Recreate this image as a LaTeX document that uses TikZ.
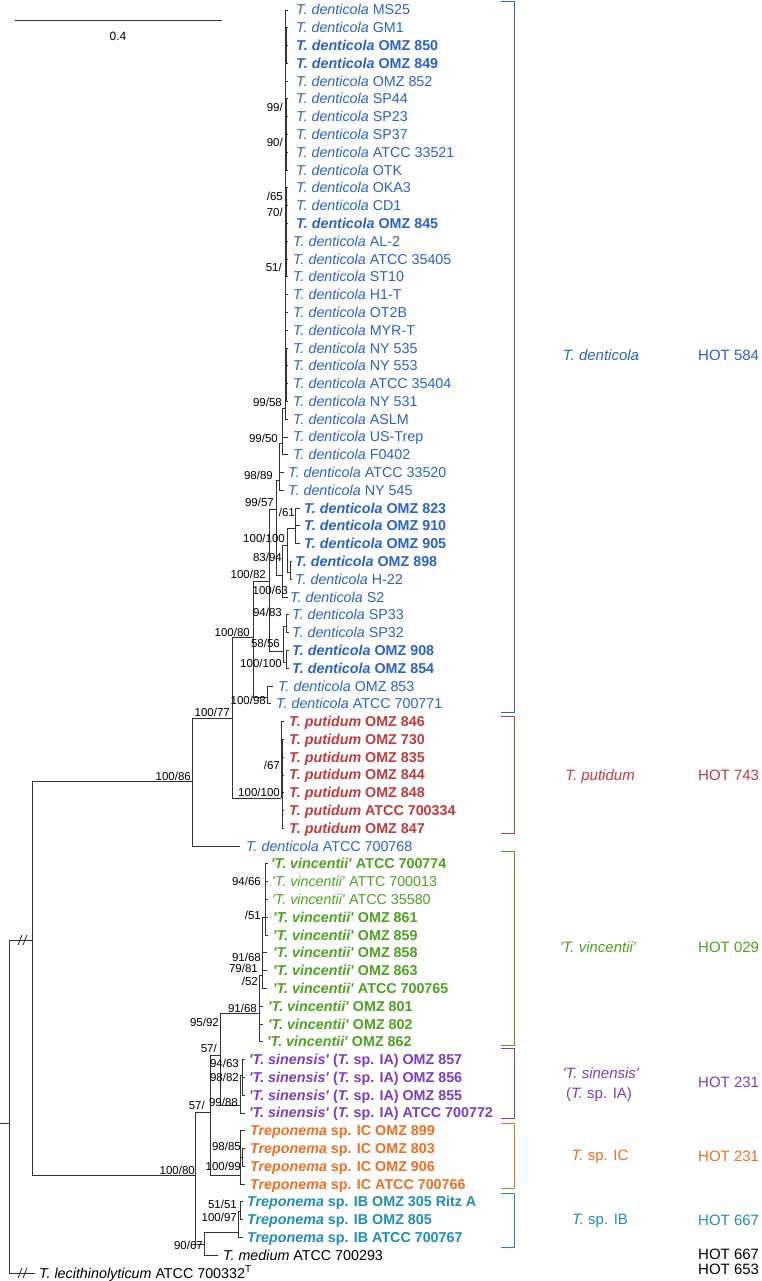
\documentclass[tikz,border=0pt]{standalone}
\usepackage{fontspec}
\setmainfont{Liberation Sans}
\definecolor{tdblue}{HTML}{2A62C6}
\definecolor{tpred}{HTML}{C23A3C}
\definecolor{tvgreen}{HTML}{4CA21F}
\definecolor{tspurple}{HTML}{7B3CC5}
\definecolor{tcorange}{HTML}{F06E22}
\definecolor{tbteal}{HTML}{1F8DB3}
\definecolor{treegray}{HTML}{333333}
\newcommand\sq{\textquotesingle}
\newcommand\tdn[1]{\textit{T. denticola} #1}
\newcommand\tdnb[1]{\textbf{\textit{T. denticola} #1}}
\newcommand\tput[1]{\textbf{\textit{T. putidum} #1}}
\newcommand\tvin[1]{\textit{\sq T. vincentii\sq} #1}
\newcommand\tvinb[1]{\textbf{\textit{\sq T. vincentii\sq} #1}}
\newcommand\tsin[1]{\textbf{\textit{\sq T. sinensis\sq} (\textit{T.} sp. IA) #1}}
\newcommand\trep[2]{\textbf{\textit{Treponema} sp. #1 #2}}
\begin{document}
\begin{tikzpicture}[x=1pt, y=-1pt,
  leaf/.style={anchor=base west, inner sep=0pt, font=\fontsize{14.3}{16}\selectfont},
  boot/.style={anchor=base east, inner sep=0pt, font=\fontsize{11.5}{13}\selectfont},
  branch/.style={draw=treegray, line width=0.9pt},
  cladebar/.style={line width=1pt},
  grp/.style={anchor=base, inner sep=0pt, font=\fontsize{15}{17}\selectfont},
  hot/.style={anchor=base west, inner sep=0pt, font=\fontsize{15}{17}\selectfont}]

\useasboundingbox (0,0) rectangle (762,1281);

% Scale bar
\coordinate (sb1) at (15,20);
\coordinate (sb2) at (222,20);
\draw[branch] (sb1) -- (sb2);
\node[inner sep=0pt, font=\fontsize{12}{14}\selectfont] (sbl) at (118,36) {0.4};

% === Leaves ===
% T. denticola
\foreach \i/\lx/\tx/\txt in {
  1/296/288/\tdn{MS25}, 2/296/288/\tdn{GM1}, 3/296/288/\tdnb{OMZ 850},
  4/296/288/\tdnb{OMZ 849}, 5/296/288/\tdn{OMZ 852}, 6/296/288/\tdn{SP44},
  7/296/288/\tdn{SP23}, 8/296/288/\tdn{SP37}, 9/296/288/\tdn{ATCC 33521},
  10/296/288/\tdn{OTK}, 11/296/288/\tdn{OKA3}, 12/296/288/\tdn{CD1},
  13/296/288/\tdnb{OMZ 845}, 14/293/288/\tdn{AL-2}, 15/293/288/\tdn{ATCC 35405},
  16/293/288/\tdn{ST10}, 17/293/288/\tdn{H1-T}, 18/293/288/\tdn{OT2B},
  19/293/288/\tdn{MYR-T}, 20/293/288/\tdn{NY 535}, 21/293/288/\tdn{NY 553},
  22/293/288/\tdn{ATCC 35404}, 23/293/288/\tdn{NY 531}, 24/293/288/\tdn{ASLM},
  25/293/288/\tdn{US-Trep}, 26/293/288/\tdn{F0402}, 27/288/284/\tdn{ATCC 33520},
  28/288/284/\tdn{NY 545}, 29/304/300/\tdnb{OMZ 823}, 30/304/300/\tdnb{OMZ 910},
  31/304/300/\tdnb{OMZ 905}, 32/295/292/\tdnb{OMZ 898}, 33/295/292/\tdn{H-22},
  34/290/288/\tdn{S2}, 35/292/289/\tdn{SP33}, 36/292/289/\tdn{SP32},
  37/292/289/\tdnb{OMZ 908}, 38/292/289/\tdnb{OMZ 854}, 39/278/273/\tdn{OMZ 853},
  40/276/271/\tdn{ATCC 700771}, 48/246/240/\tdn{ATCC 700768}}
{
  \node[leaf, text=tdblue] (l\i) at (\lx, {15+17.79*(\i-1)}) {\txt};
  \coordinate (t\i) at (\tx, {10+17.79*(\i-1)});
}
% T. putidum
\foreach \i/\txt in {41/OMZ 846, 42/OMZ 730, 43/OMZ 835, 44/OMZ 844,
  45/OMZ 848, 46/ATCC 700334, 47/OMZ 847}
{
  \node[leaf, text=tpred] (l\i) at (289, {15+17.79*(\i-1)}) {\tput{\txt}};
  \coordinate (t\i) at (284, {10+17.79*(\i-1)});
}
% 'T. vincentii'
\foreach \i/\lx/\tx/\txt in {
  49/271/268/\tvinb{ATCC 700774}, 50/272/268/\tvin{ATTC 700013},
  51/272/268/\tvin{ATCC 35580}, 52/273/268/\tvinb{OMZ 861},
  53/273/268/\tvinb{OMZ 859}, 54/273/267/\tvinb{OMZ 858},
  55/273/267/\tvinb{OMZ 863}, 56/273/267/\tvinb{ATCC 700765},
  57/268/263/\tvinb{OMZ 801}, 58/268/263/\tvinb{OMZ 802},
  59/267/263/\tvinb{OMZ 862}}
{
  \node[leaf, text=tvgreen] (l\i) at (\lx, {15+17.79*(\i-1)}) {\txt};
  \coordinate (t\i) at (\tx, {10+17.79*(\i-1)});
}
% 'T. sinensis'
\foreach \i/\txt in {60/OMZ 857, 61/OMZ 856, 62/OMZ 855, 63/ATCC 700772}
{
  \node[leaf, text=tspurple] (l\i) at (249, {15+17.79*(\i-1)}) {\tsin{\txt}};
  \coordinate (t\i) at (245, {10+17.79*(\i-1)});
}
% Treponema sp. IC
\foreach \i/\txt in {64/OMZ 899, 65/OMZ 803, 66/OMZ 906, 67/ATCC 700766}
{
  \node[leaf, text=tcorange] (l\i) at (250, {15+17.79*(\i-1)}) {\trep{IC}{\txt}};
  \coordinate (t\i) at (245, {10+17.79*(\i-1)});
}
% Treponema sp. IB
\foreach \i/\txt in {68/OMZ 305 Ritz A, 69/OMZ 805, 70/ATCC 700767}
{
  \node[leaf, text=tbteal] (l\i) at (247, {15+17.79*(\i-1)}) {\trep{IB}{\txt}};
  \coordinate (t\i) at (243, {10+17.79*(\i-1)});
}
% Outgroups
\node[leaf] (l71) at (223, {15+17.79*70}) {\textit{T. medium} ATCC 700293};
\coordinate (t71) at (218, {10+17.79*70});
\node[leaf] (l72) at (39, {15+17.79*71}) {\textit{T. lecithinolyticum} ATCC 700332\textsuperscript{T}};
\coordinate (t72) at (35, {10+17.79*71});

% === Internal nodes ===
\coordinate (rt) at (0,1123);
\coordinate (n0) at (9,1123);
\coordinate (n1) at (32,940);
\coordinate (n2) at (192,781);
\coordinate (n3) at (232,718);
\coordinate (nA) at (253,637);
\coordinate (nB) at (269,581);
\coordinate (n9957) at (276,509);
\coordinate (n9889) at (279,480);
\coordinate (n9950) at (282,443);
\coordinate (n9958) at (285,408);
\coordinate (nsa) at (286.6,46);
\coordinate (n99) at (286.6,126);
\coordinate (n65) at (286.6,233);
\coordinate (nsb) at (286.6,376);
\coordinate (n10063) at (282,575);
\coordinate (n10010) at (287,545);
\coordinate (n61) at (295,528);
\coordinate (n8394) at (290,572);
\coordinate (n5856) at (283,651);
\coordinate (n9483) at (286,626);
\coordinate (n100b) at (286,662);
\coordinate (nG) at (267,697);
\coordinate (nPU) at (281,798);
\coordinate (nPU2) at (282.5,777);
\coordinate (n4) at (195,1175);
\coordinate (n5) at (210,1112);
\coordinate (nV57) at (220,1055);
\coordinate (nVinc) at (259,1013);
\coordinate (nV2) at (262,975);
\coordinate (nV3) at (265,917);
\coordinate (nSin) at (240,1105);
\coordinate (nSin2) at (242,1075);
\coordinate (nIC) at (240,1175);
\coordinate (nIC2) at (242,1157);
\coordinate (n9067) at (204,1244);
\coordinate (nIB) at (238,1232);
\coordinate (nIB2) at (240,1211);

% === Branches ===
\draw[branch] (rt) -- (n0);
\draw[branch] (n0) |- (n1);
\draw[branch] (n0) |- (t72);
\draw[branch] (n1) |- (n2);
\draw[branch] (n1) |- (n4);
\draw[branch] (n2) |- (n3);
\draw[branch] (n2) |- (t48);
\draw[branch] (n3) |- (nA);
\draw[branch] (n3) |- (nPU);
\draw[branch] (nA) |- (nB);
\draw[branch] (nA) |- (nG);
\draw[branch] (nB) |- (n9957);
\draw[branch] (nB) |- (n5856);
\draw[branch] (n9957) |- (n9889);
\draw[branch] (n9957) |- (n10063);
\draw[branch] (n9889) |- (n9950);
\draw[branch] (n9950) |- (n9958);
\foreach \c in {27,28} \draw[branch] (n9889) |- (t\c);
\foreach \c in {25,26} \draw[branch] (n9950) |- (t\c);
\foreach \c in {1,...,24} \draw[branch] (n9958) |- (t\c);
\foreach \s/\a/\b in {nsa/2/4, n99/6/10, n65/11/16, nsb/20/23}
{
  \draw[branch] (n9958) |- (\s);
  \foreach \c in {\a,...,\b} \draw[branch] (\s) |- (t\c);
}
\draw[branch] (n10063) |- (n10010);
\draw[branch] (n10063) |- (t34);
\draw[branch] (n10010) |- (n61);
\draw[branch] (n10010) |- (n8394);
\foreach \c in {29,30,31} \draw[branch] (n61) |- (t\c);
\foreach \c in {32,33} \draw[branch] (n8394) |- (t\c);
\draw[branch] (n5856) |- (n9483);
\draw[branch] (n5856) |- (n100b);
\foreach \c in {35,36} \draw[branch] (n9483) |- (t\c);
\foreach \c in {37,38} \draw[branch] (n100b) |- (t\c);
\foreach \c in {39,40} \draw[branch] (nG) |- (t\c);
\draw[branch] (nPU) |- (nPU2);
\draw[branch] (nPU) |- (t41);
\foreach \c in {42,...,47} \draw[branch] (nPU2) |- (t\c);
\draw[branch] (n4) |- (n5);
\draw[branch] (n4) |- (n9067);
\draw[branch] (n5) |- (nV57);
\draw[branch] (n5) |- (nIC);
\draw[branch] (nV57) |- (nVinc);
\draw[branch] (nV57) |- (nSin);
\draw[branch] (nVinc) |- (nV2);
\foreach \c in {57,58,59} \draw[branch] (nVinc) |- (t\c);
\draw[branch] (nV2) |- (nV3);
\foreach \c in {54,55,56} \draw[branch] (nV2) |- (t\c);
\foreach \c in {49,...,53} \draw[branch] (nV3) |- (t\c);
\draw[branch] (nSin) |- (nSin2);
\draw[branch] (nSin) |- (t63);
\foreach \c in {60,61,62} \draw[branch] (nSin2) |- (t\c);
\draw[branch] (nIC) |- (nIC2);
\foreach \c in {64,67} \draw[branch] (nIC) |- (t\c);
\foreach \c in {65,66} \draw[branch] (nIC2) |- (t\c);
\draw[branch] (n9067) |- (nIB);
\draw[branch] (n9067) |- (t71);
\draw[branch] (nIB) |- (nIB2);
\draw[branch] (nIB) |- (t70);
\foreach \c in {68,69} \draw[branch] (nIB2) |- (t\c);

% Broken branches
\foreach \yb in {940,1273}
  \foreach \xb in {18,23}
    \draw[branch] (\xb,\yb+5) -- (\xb+4,\yb-5);

% === Support values ===
\node[boot] (s1) at (283,112) {99/};
\node[boot] (s2) at (283,147) {90/};
\node[boot] (s3) at (283,201) {/65};
\node[boot] (s4) at (283,217) {70/};
\node[boot] (s5) at (282,271) {51/};
\node[boot] (s6) at (282,406) {99/58};
\node[boot] (s7) at (278,442) {99/50};
\node[boot] (s8) at (273,479) {98/89};
\node[boot] (s9) at (274,506) {99/57};
\node[boot] (s10) at (295,516) {/61};
\node[boot] (s11) at (285,542) {100/100};
\node[boot] (s12) at (282,561) {83/94};
\node[boot] (s13) at (266,578) {100/82};
\node[boot] (s14) at (288,594) {100/63};
\node[boot] (s15) at (282,616) {94/83};
\node[boot] (s16) at (250,636) {100/80};
\node[boot] (s17) at (280,647) {58/56};
\node[boot] (s18) at (282,667) {100/100};
\node[boot] (s19) at (266,704) {100/98};
\node[boot] (s20) at (230,716) {100/77};
\node[boot] (s21) at (280,769) {/67};
\node[boot] (s22) at (191,780) {100/86};
\node[boot] (s23) at (280,796) {100/100};
\node[boot] (s24) at (261,885) {94/66};
\node[boot] (s25) at (261,919) {/51};
\node[boot] (s26) at (261,961) {91/68};
\node[boot] (s27) at (258,972) {79/81};
\node[boot] (s28) at (258,985) {/52};
\node[boot] (s29) at (257,1012) {91/68};
\node[boot] (s30) at (219,1026) {95/92};
\node[boot] (s31) at (217,1052) {57/};
\node[boot] (s32) at (239,1067) {94/63};
\node[boot] (s33) at (239,1081) {98/82};
\node[boot] (s34) at (205,1109) {57/};
\node[boot] (s35) at (238,1106) {99/88};
\node[boot] (s36) at (241,1150) {98/85};
\node[boot] (s37) at (195,1174) {100/80};
\node[boot] (s38) at (241,1170) {100/99};
\node[boot] (s39) at (237,1208) {51/51};
\node[boot] (s40) at (237,1221) {100/97};
\node[boot] (s41) at (203,1249) {90/67};

% === Clade brackets ===
\draw[cladebar, tdblue] (501,1.2) -- (514,1.2) -- (514,712) -- (501,712);
\draw[cladebar, tpred] (501,716) -- (514,716) -- (514,833) -- (501,833);
\draw[cladebar, tvgreen] (501,851) -- (514,851) -- (514,1045) -- (501,1045);
\draw[cladebar, tspurple] (501,1048) -- (514,1048) -- (514,1118) -- (501,1118);
\draw[cladebar, tcorange] (501,1123) -- (514,1123) -- (514,1188) -- (501,1188);
\draw[cladebar, tbteal] (501,1193) -- (514,1193) -- (514,1247) -- (501,1247);

% Clade names
\node[grp, text=tdblue] (g1) at (601,360) {\textit{T. denticola}};
\node[grp, text=tpred] (g2) at (600,780) {\textit{T. putidum}};
\node[grp, text=tvgreen] (g3) at (598,952) {\textit{\sq T. vincentii\sq}};
\node[grp, text=tspurple] (g4) at (601,1078) {\textit{\sq T. sinensis\sq}};
\node[grp, text=tspurple] (g4b) at (599,1098) {(\textit{T.} sp. IA)};
\node[grp, text=tcorange] (g5) at (600,1160) {\textit{T.} sp. IC};
\node[grp, text=tbteal] (g6) at (600,1224) {\textit{T.} sp. IB};

% HOT numbers
\node[hot, text=tdblue] (h1) at (698,360) {HOT 584};
\node[hot, text=tpred] (h2) at (698,780) {HOT 743};
\node[hot, text=tvgreen] (h3) at (698,952) {HOT 029};
\node[hot, text=tspurple] (h4) at (698,1087) {HOT 231};
\node[hot, text=tcorange] (h5) at (698,1161) {HOT 231};
\node[hot, text=tbteal] (h6) at (698,1225) {HOT 667};
\node[hot] (h7) at (698,1259) {HOT 667};
\node[hot] (h8) at (698,1274) {HOT 653};

\end{tikzpicture}
\end{document}
